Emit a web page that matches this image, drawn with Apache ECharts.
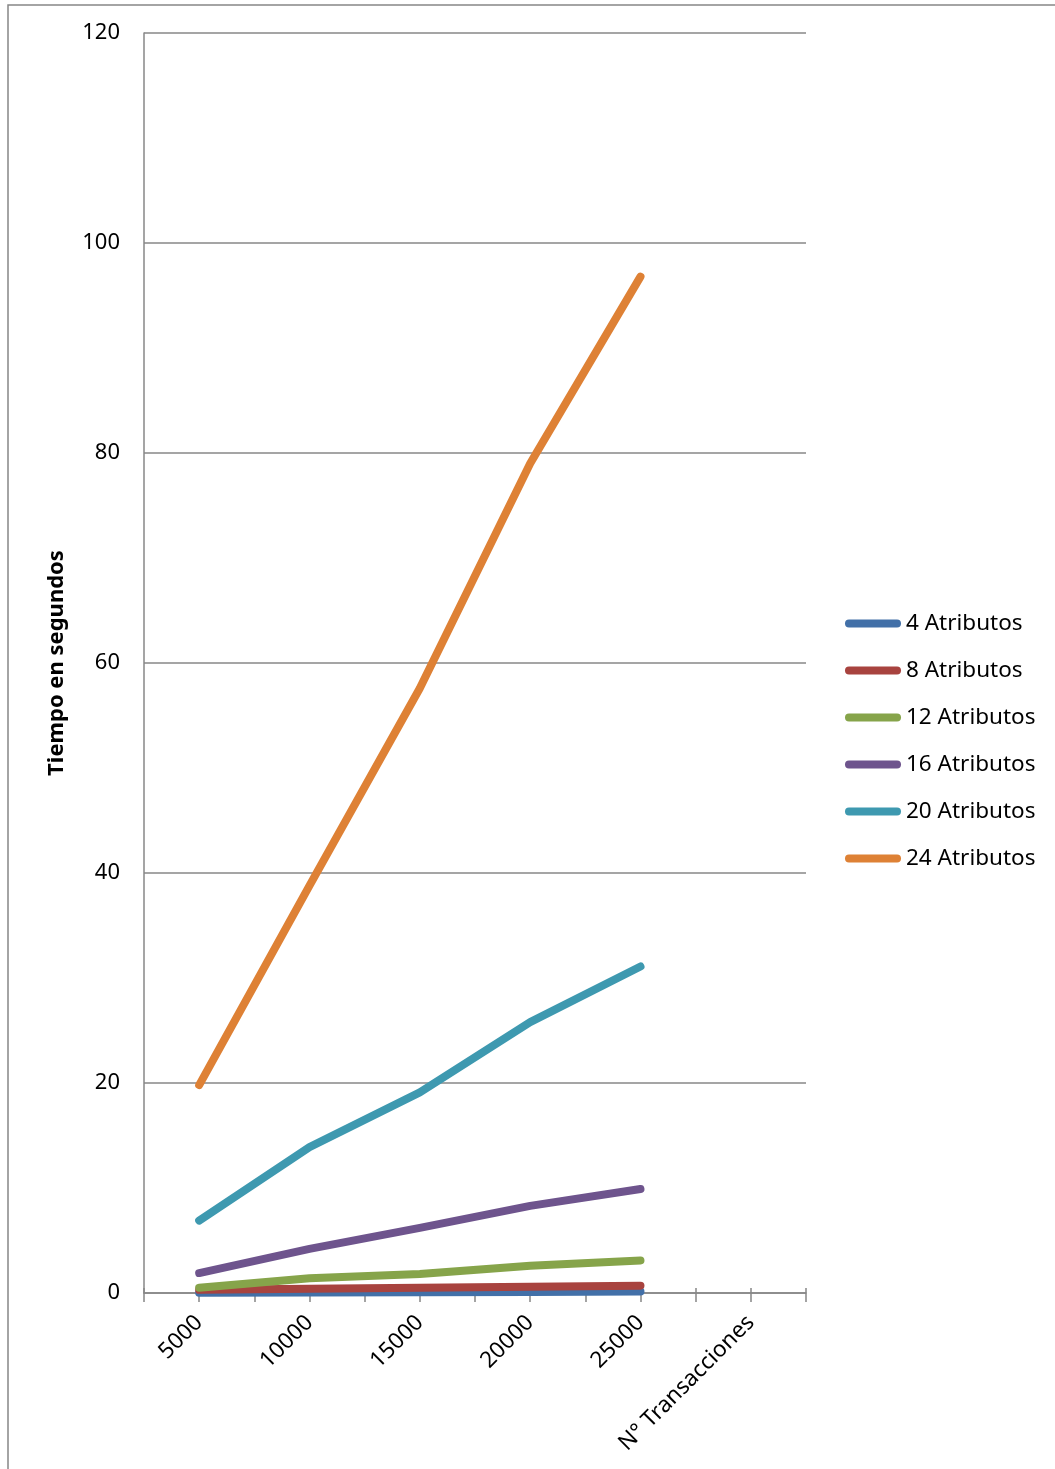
<!DOCTYPE html>
<html>
<head>
<meta charset="utf-8">
<script src="https://cdn.jsdelivr.net/npm/echarts@6/dist/echarts.min.js"></script>
<style>
  html, body { margin: 0; padding: 0; background: #fff; }
  #chart { width: 1055px; height: 1469px; }
</style>
</head>
<body>
<div id="chart"></div>
<script>
// categorias del eje X (la ultima es solo el rotulo del eje)
const categorias = ["5000", "10000", "15000", "20000", "25000", "N° Transacciones"];
const yTicks = [0, 20, 40, 60, 80, 100, 120];

const nombres = ["4 Atributos", "8 Atributos", "12 Atributos", "16 Atributos", "20 Atributos", "24 Atributos"];
const colores = ["#4270A8", "#A8433F", "#86A44A", "#6E548D", "#3E99B0", "#DE8135"];

// tiempo en segundos por numero de transacciones
const atrib4 = [0.02, 0.05, 0.08, 0.1, 0.15];
const atrib8 = [0.3, 0.4, 0.5, 0.6, 0.7];
const atrib12 = [0.5, 1.4, 1.8, 2.6, 3.1];
const atrib16 = [1.9, 4.2, 6.2, 8.3, 9.9];
const atrib20 = [6.9, 13.9, 19.1, 25.8, 31.1];
const atrib24 = [19.8, 38.8, 57.6, 79.0, 96.8];

const valores = [atrib4, atrib8, atrib12, atrib16, atrib20, atrib24];
const gris = "#878787";
const fuente = "Noto Sans";

let chart = echarts.init(document.getElementById("chart"));

// ejes auxiliares solo para las marcas que cruzan el eje
function ejeMarcas(centro, dentro) {
  return {
    type: "category",
    data: categorias,
    position: "bottom",
    boundaryGap: true,
    axisLine: { show: false },
    axisLabel: { show: false },
    axisTick: {
      show: true,
      interval: 0,
      alignWithLabel: centro,
      inside: dentro,
      length: dentro ? 5 : 9,
      lineStyle: { color: gris, width: 1.5 },
    },
  };
}

var option = {
  animation: false,
  backgroundColor: "#fff",
  textStyle: { fontFamily: fuente },
  graphic: [
    {
      type: "rect",
      shape: { x: 8, y: 5, width: 1100, height: 1500 },
      style: { fill: "none", stroke: gris, lineWidth: 1.5 },
      silent: true,
    },
  ],
  grid: { left: 144, right: 249, top: 33, bottom: 176 },
  legend: {
    orient: "vertical",
    left: 845,
    top: 612,
    padding: 0,
    itemWidth: 56,
    itemHeight: 8,
    itemGap: 24,
    itemTextGap: 3,
    icon: "path://M4,0 L52,0 A4,4 0 0 1 52,8 L4,8 A4,4 0 0 1 4,0 Z",
    textStyle: { fontSize: 22.5, color: "#000", fontFamily: fuente },
    data: nombres,
  },
  xAxis: [
    {
      type: "category",
      data: categorias,
      boundaryGap: true,
      axisLine: { show: true, lineStyle: { color: gris, width: 1.5 } },
      axisTick: {
        show: true,
        interval: 0,
        length: 9,
        lineStyle: { color: gris, width: 1.5 },
      },
      axisLabel: {
        interval: 0,
        rotate: 45,
        margin: 26,
        fontSize: 22.5,
        color: "#000",
        fontFamily: fuente,
      },
    },
    ejeMarcas(true, false),
    ejeMarcas(false, true),
    ejeMarcas(true, true),
  ],
  yAxis: {
    type: "value",
    min: yTicks[0],
    max: yTicks[yTicks.length - 1],
    interval: 20,
    name: "Tiempo en segundos",
    nameLocation: "middle",
    nameGap: 76,
    nameTextStyle: { fontSize: 22, fontWeight: "bold", color: "#000", fontFamily: fuente },
    axisLine: { show: true, lineStyle: { color: gris, width: 1.5 } },
    axisTick: { show: false },
    axisLabel: { fontSize: 22, color: "#000", margin: 24, fontFamily: fuente },
    splitLine: { show: true, lineStyle: { color: gris, width: 1.5 } },
  },
  series: nombres.map((nombre, i) => {
    return {
      name: nombre,
      type: "line",
      xAxisIndex: 0,
      data: valores[i],
      symbol: "none",
      showSymbol: false,
      color: colores[i],
      lineStyle: { width: 8, color: colores[i], cap: "round", join: "round" },
      itemStyle: { color: colores[i] },
    };
  }),
};

chart.setOption(option);
</script>
</body>
</html>
